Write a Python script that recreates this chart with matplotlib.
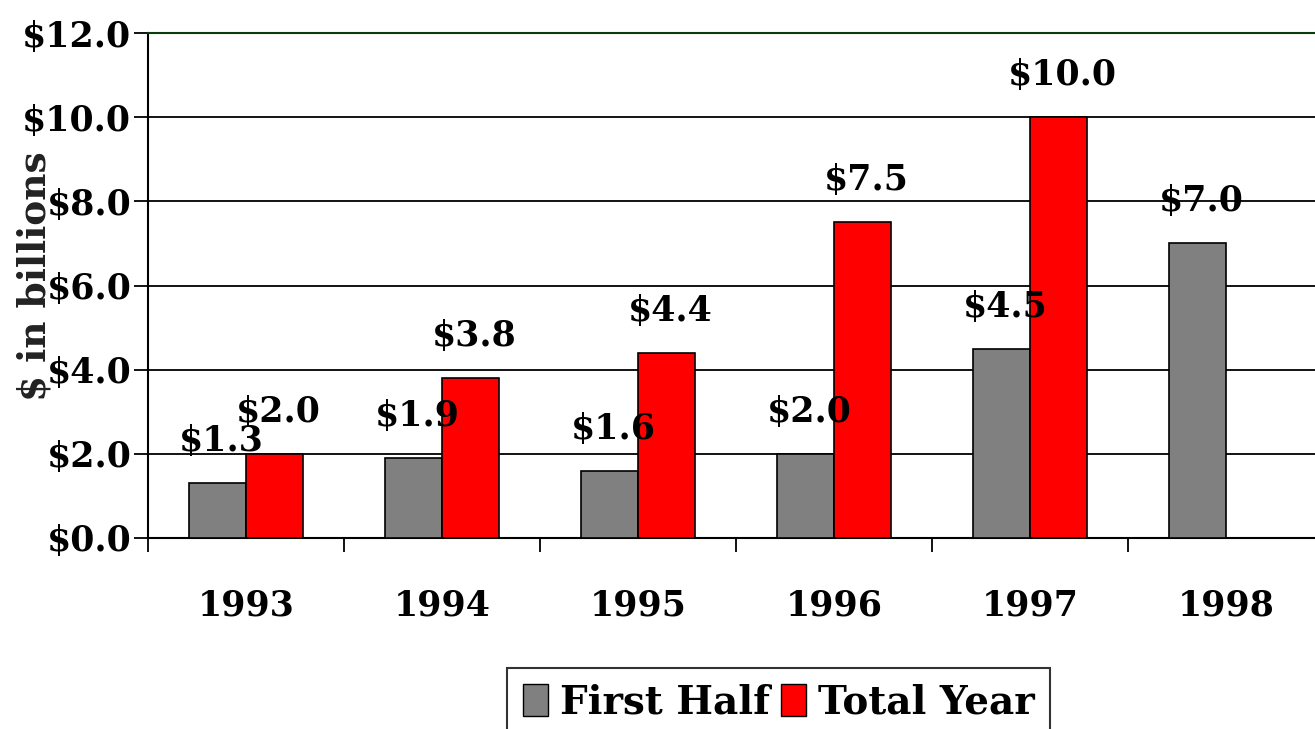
import numpy as np
import matplotlib.pyplot as plt
from matplotlib.patches import Patch

# Datos
anios = ['1993', '1994', '1995', '1996', '1997', '1998']
primera_mitad = [1.3, 1.9, 1.6, 2.0, 4.5, 7.0]
total_anio = [2.0, 3.8, 4.4, 7.5, 10.0, np.nan]
etiquetas_y = ['$0.0', '$2.0', '$4.0', '$6.0', '$8.0', '$10.0', '$12.0']

plt.rcParams['font.family'] = ['DejaVu Serif']
plt.rcParams['font.weight'] = 'bold'

fig = plt.figure(figsize=(13.15, 7.29), dpi=100)
ax = fig.add_axes([148 / 1315, 1 - 538 / 729, 6 * 196 / 1315, (538 - 33) / 729])

x = np.arange(len(anios))
ancho = 0.29
ax.bar(x - ancho / 2, primera_mitad, ancho, color='#808080', edgecolor='black', linewidth=1.2, zorder=3)
ax.bar(x + ancho / 2, total_anio, ancho, color='#ff0000', edgecolor='black', linewidth=1.2, zorder=3)

# Etiquetas de valor sobre las barras
for xi, v in zip(x - ancho / 2, primera_mitad):
    ax.annotate(f'${v:.1f}', (xi, v), xytext=(3, 18), textcoords='offset points',
                ha='center', va='bottom', fontsize=25, fontweight='bold', zorder=4)
for xi, v in zip(x + ancho / 2, total_anio):
    if np.isnan(v):
        continue
    ax.annotate(f'${v:.1f}', (xi, v), xytext=(3, 18), textcoords='offset points',
                ha='center', va='bottom', fontsize=25, fontweight='bold', zorder=4)

ax.set_xlim(-0.5, len(anios) - 0.5)
ax.set_ylim(0, 12)
ax.set_yticks(np.arange(0, 13, 2))
ax.set_yticklabels(etiquetas_y, fontsize=25, fontweight='bold')
ax.yaxis.grid(True, color='black', linewidth=1.3, zorder=0)
ax.set_axisbelow(True)

# Ticks del eje x entre categorias, etiquetas centradas
ax.set_xticks(np.arange(-0.5, len(anios), 1))
ax.set_xticklabels([])
ax.set_xticks(x, minor=True)
ax.set_xticklabels(anios, minor=True, fontsize=25, fontweight='bold')
ax.tick_params(axis='x', which='minor', length=0, pad=36)
ax.tick_params(axis='x', which='major', length=10, width=1.3, direction='out')
ax.tick_params(axis='y', length=10, width=1.3, direction='out', pad=2)

ax.spines['right'].set_visible(False)
ax.spines['top'].set_color('#0b3d0b')
ax.spines['top'].set_linewidth(1.5)
ax.spines['left'].set_linewidth(1.5)
ax.spines['bottom'].set_linewidth(1.5)

fig.text(35 / 1315, 1 - 276 / 729, '$ in billions', rotation=90, ha='center', va='center',
         fontsize=27, fontweight='bold', color='#222222')

manejadores = [Patch(facecolor='#808080', edgecolor='black', label='First Half'),
               Patch(facecolor='#ff0000', edgecolor='black', label='Total Year')]
leg = fig.legend(handles=manejadores, loc='upper left', bbox_to_anchor=(507 / 1315, 1 - 668 / 729),
                 ncol=2, frameon=True, fancybox=False, edgecolor='black',
                 handlelength=0.65, handleheight=0.9, handletextpad=0.3, columnspacing=0.3,
                 borderpad=0.4, borderaxespad=0, prop={'weight': 'bold', 'size': 28})
leg.get_frame().set_linewidth(1.5)

fig.savefig('out.png', dpi=100)
